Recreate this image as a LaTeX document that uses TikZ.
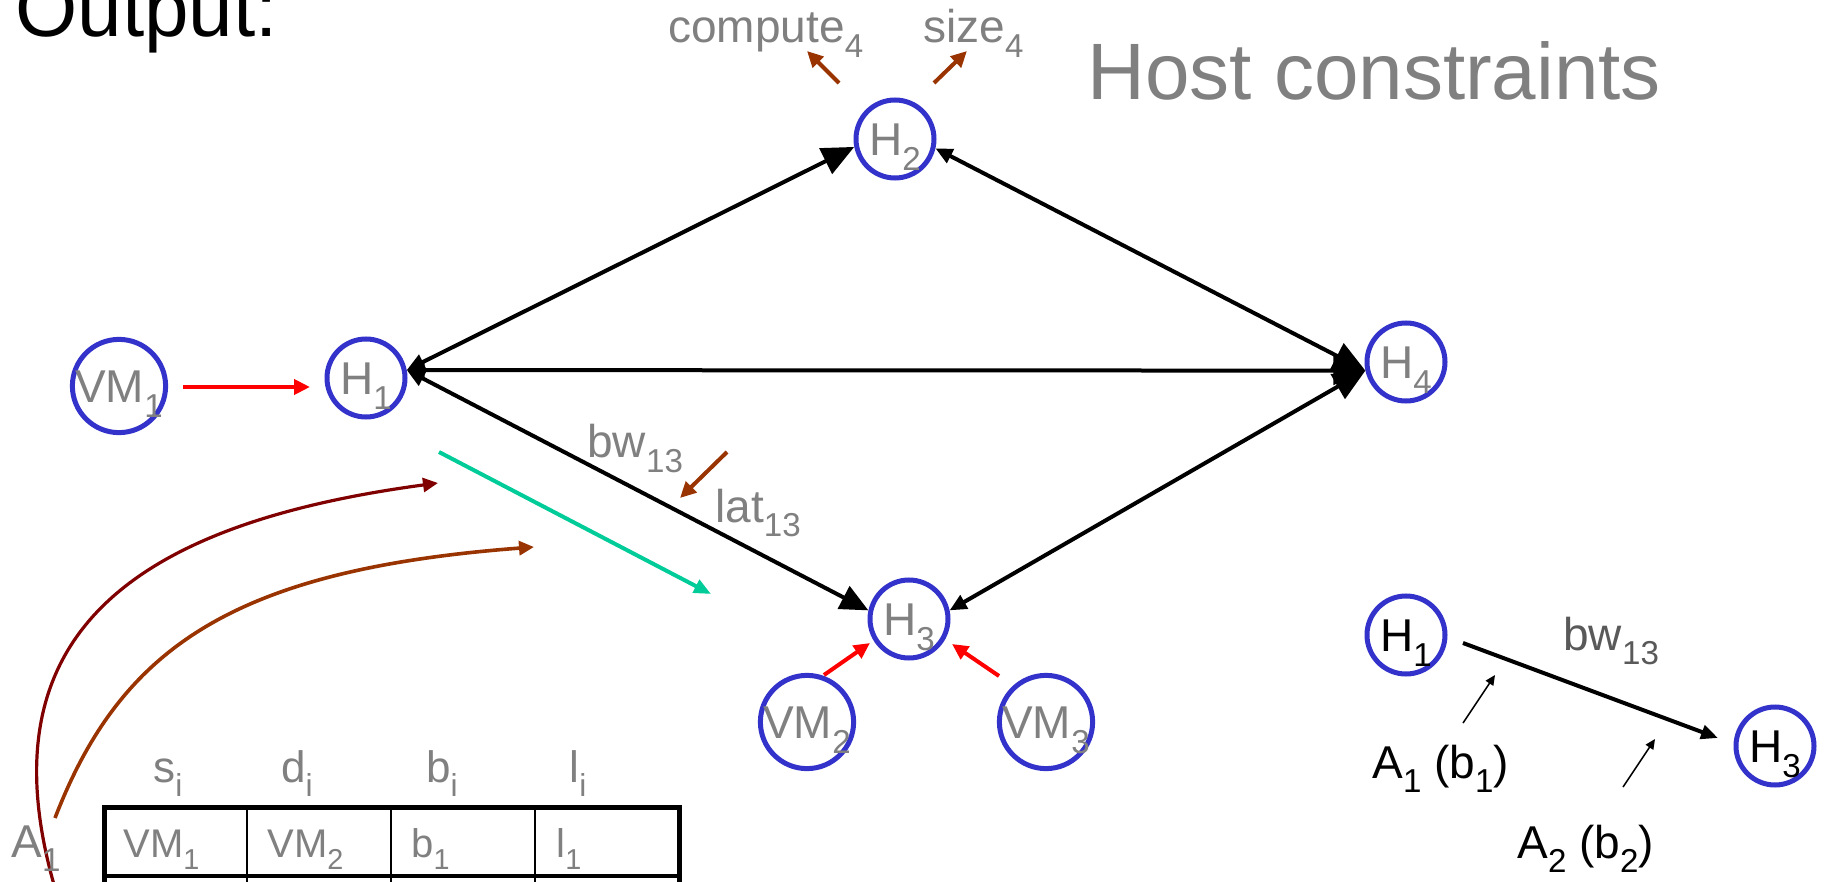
\documentclass[tikz,border=0pt]{standalone}
\usepackage{graphicx}
\usepackage{fontspec}
\setmainfont{Liberation Sans}
\usetikzlibrary{arrows.meta,calc}
\definecolor{cblue}{HTML}{3333CC}
\definecolor{tgray}{HTML}{808080}
\definecolor{dgray}{HTML}{595959}
\definecolor{cbrown}{HTML}{993300}
\definecolor{cmaroon}{HTML}{800000}
\definecolor{cteal}{HTML}{00CC99}
\definecolor{cred}{HTML}{FF0000}
\newcommand\sbs[1]{\raisebox{-0.32em}{\scalebox{0.72}{#1}}}
\begin{document}
\begin{tikzpicture}[x=0.5pt,y=-0.5pt,
  tBig/.tip={Triangle[length=16pt,width=14pt]},
  tMid/.tip={Triangle[length=14pt,width=12.5pt]},
  tSm/.tip={Triangle[length=8.5pt,width=7.5pt]},
  tH/.tip={Triangle[length=9pt,width=8pt]},
  tC/.tip={Triangle[length=8pt,width=7.5pt]},
  tThin/.tip={Triangle[length=5pt,width=4.5pt]},
  hc/.style={circle, draw=cblue, line width=2.5pt, minimum size=39pt, inner sep=0pt,
    font=\fontsize{23}{27}\selectfont, text=tgray, text height=16.5pt, text depth=0pt},
  vmc/.style={hc, minimum size=46.5pt},
  blk/.style={line width=2pt, black},
  redarr/.style={cred, line width=2pt, -tC},
  brarr/.style={cbrown, line width=2pt, -tC},
  lbl/.style={font=\fontsize{23}{27}\selectfont, text=tgray, inner sep=0pt, anchor=base west},
  big/.style={font=\fontsize{40}{46}\selectfont, inner sep=0pt, anchor=base west},
  thd/.style={font=\fontsize{22}{26}\selectfont, text=tgray, inner sep=0pt, anchor=base},
  tcell/.style={font=\fontsize{20}{24}\selectfont, text=tgray, inner sep=0pt, anchor=base west},
  blab/.style={font=\fontsize{23}{27}\selectfont, text=black, inner sep=0pt, anchor=base west},
]
\useasboundingbox (0,0) rectangle (1827,882);
\clip (0,0) rectangle (1827,882);
\fill[white] (0,0) rectangle (1827,882);

% titles
\node[big, text=black] (out) at (15,37) {Output:};
\node[big, text=tgray] (hostc) at (1087,100) {Host constraints};

% host nodes
\node[hc] (H1) at (366,378) {H\sbs{1}};
\node[hc] (H2) at (895,139) {H\sbs{2}};
\node[hc] (H3) at (909,619) {H\sbs{3}};
\node[hc] (H4) at (1406,362) {H\sbs{4}};
\node[vmc] (VM1) at (119,386) {VM\sbs{1}};
\node[vmc] (VM2) at (807,722) {VM\sbs{2}};
\node[vmc] (VM3) at (1046,722) {VM\sbs{3}};

% host links
\draw[blk, tH-tBig] (H1.11) -- (H2.191);
\draw[blk, tSm-tBig] (H2.-13) -- (H4.192);
\draw[blk, tH-tBig] (H1.11) -- (H4.192);
\draw[blk, tH-tMid] (H1.11) -- (H3.168);
\draw[blk, tSm-tBig] (H3.12) -- (H4.192);

% VM placement arrows
\coordinate (r1a) at (183,387); \coordinate (r1b) at (310,387);
\coordinate (r2a) at (824,675); \coordinate (r2b) at (870,643);
\coordinate (r3a) at (999,676); \coordinate (r3b) at (952,644);
\draw[redarr] (r1a) -- (r1b);
\draw[redarr] (r2a) -- (r2b);
\draw[redarr] (r3a) -- (r3b);

% labels near H2
\node[lbl] (comp) at (668,43) {compute\sbs{4}};
\node[lbl] (size) at (923,43) {size\sbs{4}};
\coordinate (c1a) at (839,83); \coordinate (c1b) at (807,51);
\coordinate (c2a) at (934,83); \coordinate (c2b) at (967,51);
\draw[brarr] (c1a) -- (c1b);
\draw[brarr] (c2a) -- (c2b);

% link labels
\node[lbl] (bw) at (587,458) {bw\sbs{13}};
\node[lbl] (lat) at (715,522) {lat\sbs{13}};
\coordinate (b1a) at (727,452); \coordinate (b1b) at (680,498);
\draw[brarr] (b1a) -- (b1b);

% teal arrow
\coordinate (ta) at (439,452); \coordinate (tb) at (711,594);
\draw[cteal, line width=2pt, -{Triangle[length=8.5pt,width=7pt]}] (ta) -- (tb);

% curves from table
\coordinate (m0) at (57,895); \coordinate (m1) at (438,483);
\coordinate (o0) at (55,818); \coordinate (o1) at (534,547);
\draw[cmaroon, line width=1.6pt, -{Triangle[length=7.5pt,width=7pt]}]
  (m0) .. controls (-20,640) and (125,525) .. (m1);
\draw[cbrown, line width=1.8pt, -{Triangle[length=7.5pt,width=7pt]}]
  (o0) .. controls (120,650) and (230,570) .. (o1);

% table
\node[thd] (hs) at (168,782) {s\sbs{i}};
\node[thd] (hd) at (297,782) {d\sbs{i}};
\node[thd] (hb) at (442,782) {b\sbs{i}};
\node[thd] (hl) at (578,782) {l\sbs{i}};
\draw[line width=1pt] (247,807) -- (247,900);
\draw[line width=1pt] (391,807) -- (391,900);
\draw[line width=1pt] (535,807) -- (535,900);
\draw[line width=2pt] (104,876) -- (679,876);
\draw[line width=2.5pt] (104.5,807.5) rectangle (679,940);
\node[tcell] (c11) at (123,857) {VM\sbs{1}};
\node[tcell] (c12) at (267,857) {VM\sbs{2}};
\node[tcell] (c13) at (411,857) {b\sbs{1}};
\node[tcell] (c14) at (556,857) {l\sbs{1}};
\node[lbl] (A1t) at (11,857) {A\sbs{1}};

% right example
\node[hc, text=black] (H1s) at (1406,635) {H\sbs{1}};
\node[hc, text=black] (H3s) at (1775,746) {H\sbs{3}};
\coordinate (ea) at (1463,643); \coordinate (eb) at (1718,738);
\draw[blk, -{Triangle[length=8.5pt,width=7pt]}] (ea) -- (eb);
\node[lbl, text=dgray] (bwr) at (1563,650) {bw\sbs{13}};
\node[blab] (A1r) at (1372,778) {A\sbs{1} (b\sbs{1})};
\node[blab] (A2r) at (1517,858) {A\sbs{2} (b\sbs{2})};
\coordinate (p1a) at (1463,723); \coordinate (p1b) at (1495,675);
\coordinate (p2a) at (1623,787); \coordinate (p2b) at (1655,739);
\draw[black, line width=0.75pt, -tThin] (p1a) -- (p1b);
\draw[black, line width=0.75pt, -tThin] (p2a) -- (p2b);
\end{tikzpicture}
\end{document}
